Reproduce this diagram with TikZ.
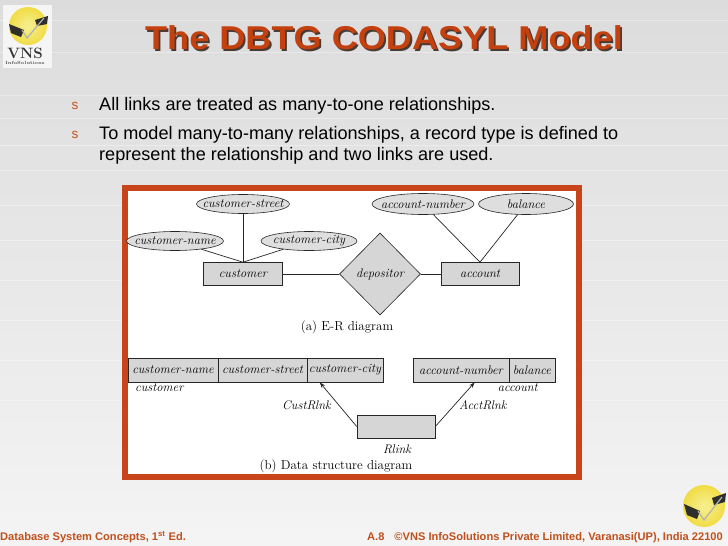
\documentclass[tikz,border=0pt]{standalone}
\usepackage{fontspec}
\usepackage{graphicx}
\newfontfamily\sansf{Liberation Sans}
\usetikzlibrary{shapes.geometric,arrows.meta,calc}
\definecolor{bgtop}{HTML}{DCDCDC}
\definecolor{bgbot}{HTML}{F4F4F4}
\definecolor{titlec}{HTML}{C4400E}
\definecolor{shadowc}{HTML}{4A3A34}
\definecolor{bulletc}{HTML}{C8501E}
\definecolor{framec}{HTML}{C8441A}
\definecolor{shapefill}{HTML}{D6D6D6}
\definecolor{ellfill}{HTML}{DEDEDE}
\definecolor{footc}{HTML}{C0501C}
\definecolor{logoy}{HTML}{F0E64C}
\definecolor{logod}{HTML}{2E2E2A}
\newcommand{\titletxt}{\scalebox{1.095}[1]{The DBTG CODASYL Model}}
\begin{document}
\begin{tikzpicture}[x=1pt,y=-1pt,
  dgit/.style={font=\itshape\fontsize{12.5}{14}\selectfont},
  attr/.style={ellipse, draw=black!85, fill=ellfill, line width=0.6pt, inner xsep=-10pt, inner ysep=0pt, minimum width=#1, minimum height=19pt, font=\itshape\fontsize{12.5}{14}\selectfont},
  entity/.style={rectangle, draw=black!85, fill=shapefill, line width=0.6pt, inner sep=0pt, minimum width=#1, minimum height=23pt, dgit},
  cell/.style={rectangle, draw=black!85, fill=shapefill, line width=0.6pt, inner sep=0pt, minimum width=#1, minimum height=24pt, dgit},
  rel/.style={diamond, draw=black!85, fill=shapefill, line width=0.6pt, inner sep=0pt, minimum width=81pt, minimum height=82pt, dgit},
  conn/.style={draw=black!85, line width=0.7pt},
  linkarrow/.style={draw=black!85, line width=0.7pt, -{Stealth[length=6pt,width=4pt]}},
  lbl/.style={inner sep=0pt, dgit},
  caption/.style={inner sep=0pt, font=\fontsize{13}{15}\selectfont},
  bullettext/.style={anchor=base west, inner sep=0pt, font=\sansf\fontsize{18.1}{21}\selectfont},
  bulletmark/.style={anchor=base, inner sep=0pt, text=bulletc, font=\sansf\fontsize{13.5}{15}\selectfont},
  foottext/.style={inner sep=0pt, text=footc, font=\sansf\bfseries\fontsize{11.1}{13}\selectfont}
]
\useasboundingbox (0,0) rectangle (728,546);
% background
\shade[top color=bgtop, bottom color=bgbot] (0,0) rectangle (728,546);
\foreach \yy in {20,52,95,118,145,170,205,240,280,320,360,400}
  \draw[white, opacity=0.35, line width=0.6pt] (0,\yy) -- (728,\yy);

% top-left logo
\fill[white!92!gray] (3,5) rectangle (52,68);
\shade[inner color=logoy!60!white, outer color=logoy!90!orange] (28,26) circle (19);
\fill[logod] (9,24) -- (24,30) -- (21,37) -- (11,33) -- cycle;
\fill[logod] (35,20) -- (48,16) -- (47,24) -- (37,26) -- cycle;
\draw[gray!60, line width=1.2pt] (22,30) -- (27,38) -- (44,18);
\node[inner sep=0pt, font=\bfseries\fontsize{15}{16}\selectfont, text=black!80] (vns) at (25,53) {VNS};
\node[inner sep=0pt, font=\bfseries\fontsize{4.5}{5}\selectfont, text=black!70] (vnssub) at (25,63) {InfoSolutions};

% bottom-right logo
\shade[inner color=logoy!60!white, outer color=logoy!90!orange] (704,506) circle (21);
\fill[logod] (684,504) -- (700,511) -- (697,519) -- (687,515) -- cycle;
\fill[logod] (712,498) -- (726,493) -- (725,502) -- (714,505) -- cycle;
\draw[gray!60, line width=1.2pt] (698,511) -- (704,520) -- (722,497);

% title with drop shadow (one node)
\node[inner sep=0pt, font=\sansf\bfseries\fontsize{33}{38}\selectfont] (title) at (384,39)
  {\rlap{\hspace{1.8pt}\raisebox{-1.8pt}{\color{shadowc}\titletxt}}{\color{titlec}\titletxt}};

% bullets
\node[bulletmark] (m1) at (75,109) {s};
\node[bullettext] (b1) at (99,110) {All links are treated as many-to-one relationships.};
\node[bulletmark] (m2) at (75,138) {s};
\node[bullettext] (b2) at (99,139) {To model many-to-many relationships, a record type is defined to};
\node[bullettext] (b3) at (99,160) {represent the relationship and two links are used.};

% frame
\draw[line width=6pt, draw=framec, fill=white] (125,188) rectangle (579,477);

% (a) E-R diagram
\node[attr=93pt] (cstreet) at (243,204) {customer-street};
\node[attr=97pt] (cname) at (175,241) {customer-name};
\node[attr=96pt] (ccity) at (309,241) {customer-city};
\node[entity=79pt] (customer) at (243,274) {customer};
\node[rel] (depositor) at (380,274) {depositor};
\node[entity=78pt] (account) at (480,274) {account};
\node[attr=102pt, minimum height=21pt] (anum) at (423,204) {account-number};
\node[attr=95pt, minimum height=21pt] (bal) at (526,204) {balance};

\draw[conn] (cstreet) -- (customer.north);
\draw[conn] (cname) -- (customer.north);
\draw[conn] (ccity) -- (customer.north);
\draw[conn] (customer) -- (depositor);
\draw[conn] (depositor) -- (account);
\draw[conn] (anum) -- (account.north);
\draw[conn] (bal) -- (account.north);

\node[caption] (capa) at (347,327) {(a) E-R diagram};

% (b) Data structure diagram
\node[cell=90pt] (dcn) at (173,370) {customer-name};
\node[cell=89pt] (dcs) at (262.5,370) {customer-street};
\node[cell=76pt] (dcc) at (345,370) {customer-city};
\node[lbl, anchor=west] (custlbl) at (135,388) {customer};

\node[cell=96pt] (dan) at (461,370) {account-number};
\node[cell=46pt] (dbal) at (532,370) {balance};
\node[lbl, anchor=east] (acctlbl) at (538,388) {account};

\node[cell=78pt, minimum height=23pt] (rlink) at (396,426.5) {};
\node[lbl] (rlinklbl) at (397,449) {Rlink};

\draw[linkarrow] (rlink.west) -- ([xshift=13pt]dcc.south west);
\draw[linkarrow] (rlink.east) -- ([xshift=62pt]dan.south west);
\node[lbl, anchor=east] (custrlnk) at (331,405) {CustRlnk};
\node[lbl, anchor=west] (acctrlnk) at (459,405) {AcctRlnk};

\node[caption] (capb) at (336,466) {(b) Data structure diagram};

% footer
\node[foottext, anchor=base west] (foot1) at (0,540) {Database System Concepts, 1\textsuperscript{st} Ed.};
\node[foottext, anchor=base west] (foot2) at (367,540) {A.8\hspace{10pt}©VNS InfoSolutions Private Limited, Varanasi(UP), India 22100};
\end{tikzpicture}
\end{document}
